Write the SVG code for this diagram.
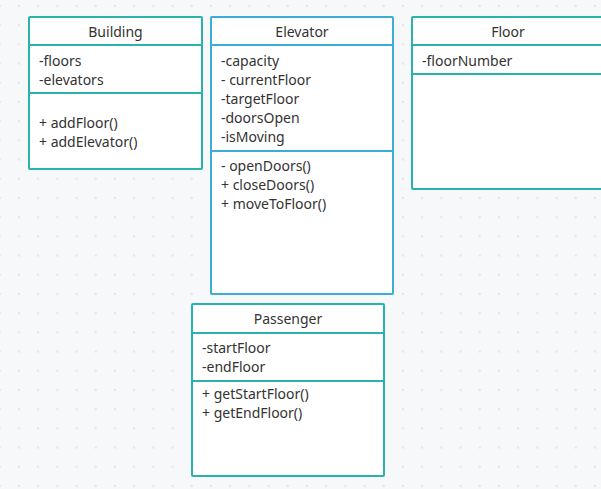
<svg xmlns="http://www.w3.org/2000/svg" width="601" height="489" viewBox="0 0 601 489">
<defs>
<pattern id="grid" x="18" y="5" width="19.2" height="19.2" patternUnits="userSpaceOnUse">
<circle cx="1" cy="1" r="1" fill="#dcdee3"/>
</pattern>
<style>
.box{fill:#ffffff;stroke:#2ab3ad;stroke-width:2}
.blue{stroke:#3aaed8}
.div{stroke:#2ab3ad;stroke-width:2;fill:none}
.divb{stroke:#3aaed8;stroke-width:2;fill:none}
text{font-family:"Noto Sans","Open Sans","DejaVu Sans",sans-serif;font-size:14px;fill:#333333}
.t{text-anchor:middle}
</style>
</defs>
<rect width="601" height="489" fill="#f7f8fa"/>
<rect width="601" height="489" fill="url(#grid)"/>
<g id="connectors"/>
<g id="building">
<rect class="box" x="29" y="17" width="173" height="152" rx="1"/>
<line class="div" x1="29" y1="45" x2="202" y2="45"/>
<line class="div" x1="29" y1="93" x2="202" y2="93"/>
<text class="t" x="115.5" y="37">Building</text>
<text x="39" y="66">-floors</text>
<text x="39" y="85">-elevators</text>
<text x="39" y="128">+ addFloor()</text>
<text x="39" y="147">+ addElevator()</text>
</g>
<g id="elevator">
<rect class="box blue" x="211" y="17" width="182" height="277" rx="1"/>
<line class="divb" x1="211" y1="45" x2="393" y2="45"/>
<line class="divb" x1="211" y1="151" x2="393" y2="151"/>
<text class="t" x="302" y="37">Elevator</text>
<text x="221" y="66">-capacity</text>
<text x="221" y="85">- currentFloor</text>
<text x="221" y="104">-targetFloor</text>
<text x="221" y="123">-doorsOpen</text>
<text x="221" y="142">-isMoving</text>
<text x="221" y="171">- openDoors()</text>
<text x="221" y="190">+ closeDoors()</text>
<text x="221" y="209">+ moveToFloor()</text>
</g>
<g id="floor">
<rect class="box" x="412" y="17" width="192" height="172" rx="1"/>
<line class="div" x1="412" y1="45" x2="604" y2="45"/>
<line class="div" x1="412" y1="74" x2="604" y2="74"/>
<text class="t" x="508" y="37">Floor</text>
<text x="422" y="66">-floorNumber</text>
</g>
<g id="passenger">
<rect class="box" x="192" y="304" width="192" height="172" rx="1"/>
<line class="div" x1="192" y1="333" x2="384" y2="333"/>
<line class="div" x1="192" y1="381" x2="384" y2="381"/>
<text class="t" x="288" y="324">Passenger</text>
<text x="202" y="353">-startFloor</text>
<text x="202" y="372">-endFloor</text>
<text x="202" y="399">+ getStartFloor()</text>
<text x="202" y="418">+ getEndFloor()</text>
</g>
</svg>
